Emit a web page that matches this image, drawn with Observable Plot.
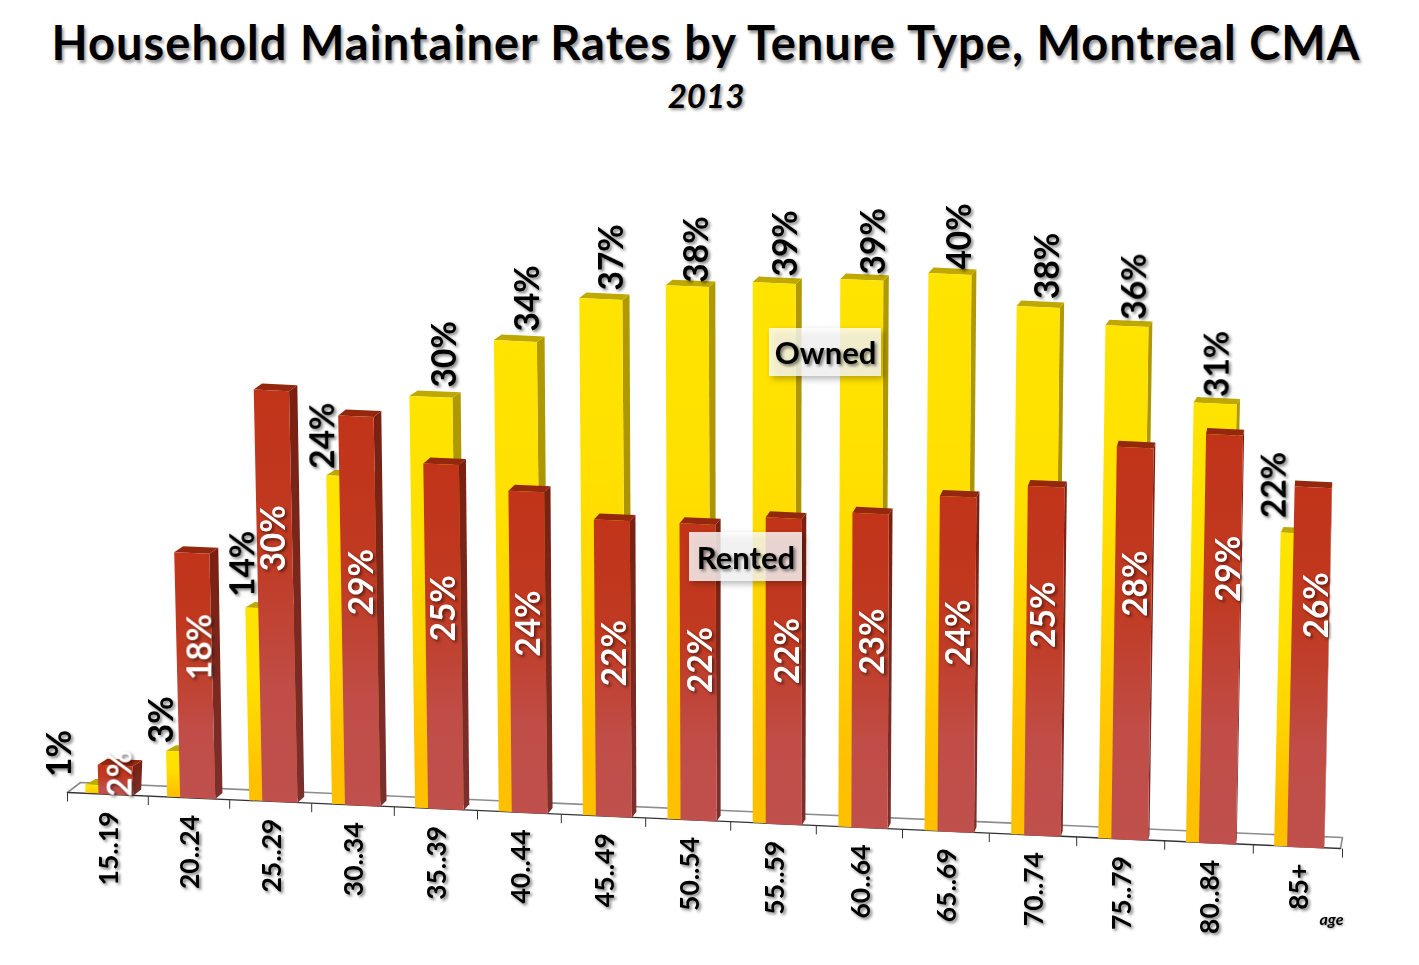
<!DOCTYPE html>
<html>
<head>
<meta charset="utf-8">
<script src="https://cdn.jsdelivr.net/npm/d3@7"></script>
<script src="https://cdn.jsdelivr.net/npm/@observablehq/plot@0.6"></script>
<style>
  html, body { margin: 0; background: #fff; }
  #page { width: 1419px; font-family: Lato, "Open Sans", sans-serif; color: #000; }
  h1 { margin: 0; height: 74px; line-height: 84px; font-size: 47px; letter-spacing: 1.05px; font-weight: 700; text-align: center; padding-right: 7px; white-space: nowrap; text-shadow: 2px 3px 3px rgba(0,0,0,.4); }
  h2 { margin: 0; height: 46px; line-height: 42px; font-size: 33px; font-weight: 700; font-style: italic; text-align: center; padding-right: 7px; text-shadow: 2px 2px 3px rgba(0,0,0,.4); }
  svg { display: block; }
</style>
</head>
<body>
<div id="page">
  <h1>Household Maintainer Rates by Tenure Type, Montreal CMA</h1>
  <h2>2013</h2>
  <div id="chart"></div>
</div>
<script>
// ---- data (percent) ----
const ageGroups = ["15..19","20..24","25..29","30..34","35..39","40..44","45..49","50..54","55..59","60..64","65..69","70..74","75..79","80..84","85+"];
const ownedRates = [0.6,3.3,13.9,23.7,29.7,34,37.3,38.5,39,39.5,40.2,38.1,37,31.7,22.6];
const rentedRates = [2.1,17.7,29.7,28.1,24.9,23.2,21.4,21.4,22.1,22.7,24.2,25.2,28.3,29.5,26];
const ownedLabels = ["1%","3%","14%","24%","30%","34%","37%","38%","39%","39%","40%","38%","36%","31%","22%"];
const rentedLabels = ["2%","18%","30%","29%","25%","24%","22%","22%","22%","23%","24%","25%","28%","29%","26%"];

// ---- layout of the tilted 3-D view, in px on the page ----
const titleH = 120, W = 1419, H = 965 - titleH;
const slotPx = 85, pctPx = 13.86, floorPy = 793.4;
const toX = px => px / slotPx;
const toY = py => (floorPy - py) / pctPx;
const frontY = px => floorPy + 0.0446 * (px - 98);
const rowLeft = i => 96.5 + 81.4 * i + 0.25 * i * i;
const lean = i => -0.0278 + 0.00348 * i;
const tickPx = j => 67 + 80.5 * j + 0.3 * j * j;

const ROW = {
  owned:  {left: i => rowLeft(i) - 11.5, w: () => 43, dx: i => 10.5 - 0.55 * i, dy: 5.5, lift: 0.5},
  rented: {left: i => rowLeft(i) + 1.5, w: i => 35 + 0.15 * i, dx: i => 9.6 - 0.65 * i, dy: 6, lift: 0}
};

function faces(name, values) {
  const r = ROW[name];
  const front = [], side = [], top = [];
  values.forEach((v, i) => {
    const x = r.left(i), w = r.w(i), b = frontY(x) - r.lift;
    const h = v * pctPx, s = lean(i) * h, d = r.dx(i), t = 0.0446 * w;
    const P = (px, py) => ({i, x: toX(px), y: toY(py)});
    const fl = P(x, b), fr = P(x + w, b + t), tl = P(x + s, b - h), tr = P(x + w + s, b + t - h);
    const bl = P(x + s + d, b - h - r.dy), br = P(x + w + s + d, b + t - h - r.dy), gr = P(x + w + d * .8, b + t - r.dy);
    front.push(fl, fr, tr, tl);
    side.push(fr, gr, br, tr);
    top.push(tl, tr, br, bl);
  });
  return {front, side, top};
}
const owned = faces("owned", ownedRates);
const rented = faces("rented", rentedRates);

const poly = (pts, fill) => Plot.line(pts, {x: "x", y: "y", z: "i", fill, stroke: "none", curve: "linear-closed"});

// floor
const fA = [67, 792], fB = [1340, 848], bB = [1342, 837], bA = [80, 782];
const frontLineY = px => fA[1] + (fB[1] - fA[1]) * (px - fA[0]) / (fB[0] - fA[0]);
const pt = ([a, b]) => ({x: toX(a), y: toY(b)});
const floorBack = [fA, bA, bB, fB].map(pt);
const floorFront = [fA, fB].map(pt);
const ticks = d3.range(16).map(j => {
  const px = tickPx(j), py = frontLineY(px);
  return {x1: toX(px), y1: toY(py), x2: toX(px), y2: toY(py + 9)};
});
const tickLabels = ageGroups.map((text, i) => {
  const px = (tickPx(i) + tickPx(i + 1)) / 2 + 2;
  return {text, x: toX(px), y: toY(frontLineY(px) + 17)};
});

// value-label placement (hand-placed in the original)
const ownedNudge = [-57.5,-35.3,-34,-35,4,2.4,.5,-.4,1.7,1.7,-.3,-.4,-2.5,-8,-38];
const ownedDrop = [3,3,0,4,2,2,3,8,5,6,7,3.5,5,5,-4];
const rentedNudge = [-133,-37,17,35,13,1,2,5,2,-3,5,-3,5,3,-13];
const rentedShift = [4.5,5.5,-.5,2.5,.5,1.5,2.5,3.5,4.5,3.5,2.5,-.5,3.5,7.5,7.5];
const ownedText = ownedLabels.map((text, i) => {
  const r = ROW.owned, x = r.left(i), h = ownedRates[i] * pctPx;
  return {text, x: toX(x + lean(i) * h + 32 + ownedNudge[i]), y: toY(frontY(x) - r.lift - h - 10.5 + ownedDrop[i])};
});
const rentedText = rentedLabels.map((text, i) => {
  const r = ROW.rented, x = r.left(i), h = rentedRates[i] * pctPx;
  const top = frontY(x) - h, start = top + 165 + rentedNudge[i];
  return {text, x: toX(x + r.w(i) / 2 + lean(i) * (frontY(x) - start) + rentedShift[i]), y: toY(start)};
});

// call-outs
const callouts = [
  {text: "Owned", x1: 769, x2: 881, y1: 328, y2: 376},
  {text: "Rented", x1: 689, x2: 802, y1: 532, y2: 581}
].map(c => ({text: c.text, x1: toX(c.x1), x2: toX(c.x2), y1: toY(c.y1), y2: toY(c.y2), cx: toX((c.x1 + c.x2) / 2), cy: toY((c.y1 + c.y2) / 2 + 2)}));

const gradients = () => {
  const NS = "http://www.w3.org/2000/svg";
  const defs = document.createElementNS(NS, "defs");
  const add = (id, stops) => {
    const g = document.createElementNS(NS, "linearGradient");
    g.setAttribute("id", id); g.setAttribute("x1", 0); g.setAttribute("x2", 0); g.setAttribute("y1", 0); g.setAttribute("y2", 1);
    stops.forEach(([o, c]) => {
      const s = document.createElementNS(NS, "stop");
      s.setAttribute("offset", o); s.setAttribute("stop-color", c); g.appendChild(s);
    });
    defs.appendChild(g);
  };
  add("ownedFront", [[0, "#FFE400"], [0.35, "#FFE000"], [0.6, "#FFD300"], [0.88, "#FFC000"], [1, "#FFC000"]]);
  add("ownedSide", [[0, "#B09A00"], [1, "#A68C00"]]);
  add("rentedFront", [[0, "#C1341A"], [0.4, "#C03A22"], [0.72, "#C04D47"], [1, "#C0504D"]]);
  add("rentedSide", [[0, "#7A2010"], [1, "#7B302E"]]);
  return defs;
};

const shadow = "drop-shadow(2px 2px 1.6px rgba(0,0,0,.5))";
const chart = Plot.plot({
  width: W, height: H,
  marginTop: 0, marginRight: 0, marginBottom: 0, marginLeft: 0,
  x: {domain: [0, toX(W)], range: [0, W], axis: null},
  y: {domain: [toY(965), toY(titleH)], range: [H, 0], axis: null},
  style: {background: "transparent", overflow: "visible", fontFamily: "Lato, 'Open Sans', sans-serif"},
  marks: [
    gradients,
    Plot.line(floorBack, {x: "x", y: "y", stroke: "#8c8c8c", strokeWidth: 1.6}),
    Plot.line(floorFront, {x: "x", y: "y", stroke: "#333", strokeWidth: 1.3}),
    Plot.link(ticks, {x1: "x1", y1: "y1", x2: "x2", y2: "y2", stroke: "#333", strokeWidth: 1}),
    poly(owned.side, "url(#ownedSide)"),
    poly(owned.top, "#BFA900"),
    poly(owned.front, "url(#ownedFront)"),
    poly(rented.side, "url(#rentedSide)"),
    poly(rented.top, "#94280F"),
    poly(rented.front, "url(#rentedFront)"),
    Plot.text(ownedText, {x: "x", y: "y", text: "text", rotate: -90, textAnchor: "start", lineAnchor: "middle", fontSize: 33.5, fontWeight: 700, fill: "#000", imageFilter: shadow}),
    Plot.text(rentedText, {x: "x", y: "y", text: "text", rotate: -90, textAnchor: "start", lineAnchor: "middle", fontSize: 33.5, fontWeight: 700, fill: "#fff", imageFilter: shadow}),
    Plot.text(tickLabels, {x: "x", y: "y", text: "text", rotate: -90, textAnchor: "end", lineAnchor: "middle", fontSize: 26.5, fontWeight: 700, fill: "#000", imageFilter: shadow}),
    Plot.rect(callouts, {x1: "x1", x2: "x2", y1: "y1", y2: "y2", fill: "#fff", fillOpacity: 0.8, imageFilter: "drop-shadow(3px 3px 3px rgba(0,0,0,.35))"}),
    Plot.text(callouts, {x: "cx", y: "cy", text: "text", fontSize: 31, fontWeight: 700, fill: "#000", imageFilter: shadow}),
    Plot.text(["age"], {x: toX(1331), y: toY(919), text: d => d, fontSize: 16, fontWeight: 700, fontStyle: "italic", fill: "#000", imageFilter: "drop-shadow(1px 1px 1px rgba(0,0,0,.4))"})
  ]
});
document.getElementById("chart").appendChild(chart);
</script>
</body>
</html>
